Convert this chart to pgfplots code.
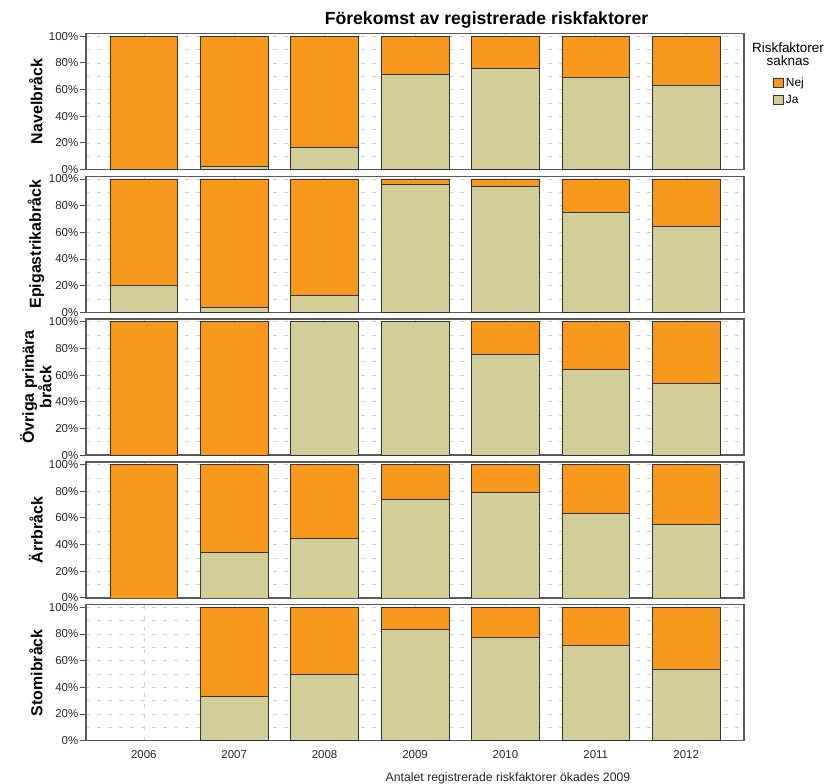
\documentclass[border=0pt]{standalone}
\usepackage{fontspec}
\setmainfont{Liberation Sans}
\usepackage{pgfplots}
\pgfplotsset{compat=1.18}
\usepackage{pgfplotstable}
\definecolor{nej}{RGB}{247,152,29}
\definecolor{ja}{RGB}{211,206,151}

\pgfplotstableread{
x ja nej
0 0 100
1 2.2 97.8
2 16.7 83.3
3 71.7 28.3
4 75.5 24.5
5 68.8 31.2
6 63.4 36.6
}\navel
\pgfplotstableread{
x ja nej
0 20.3 79.7
1 3.5 96.5
2 12.5 87.5
3 96.2 3.8
4 94.5 5.5
5 75.0 25.0
6 64.4 35.6
}\epig
\pgfplotstableread{
x ja nej
0 0 100
1 0 100
2 100 0
3 100 0
4 75.5 24.5
5 64.0 36.0
6 54.0 46.0
}\ovriga
\pgfplotstableread{
x ja nej
0 0 100
1 34.1 65.9
2 44.7 55.3
3 73.6 26.4
4 78.9 21.1
5 63.5 36.5
6 55.2 44.8
}\arr
\pgfplotstableread{
x ja nej
1 33.2 66.8
2 49.9 50.1
3 83.5 16.5
4 77.6 22.4
5 71.4 28.6
6 53.6 46.4
}\stomi

\pgfplotsset{
  panel/.style={
    scale only axis, width=658bp, height=136bp,
    xmin=-0.64, xmax=6.64, ymin=0, ymax=102,
    ybar stacked, bar width=0.75,
    ytick={0,20,40,60,80,100},
    yticklabels={0\%,20\%,40\%,60\%,80\%,100\%},
    minor ytick={10,30,50,70,90},
    xtick={0,1,2,3,4,5,6},
    xticklabels={},
    ymajorgrids, yminorgrids, xmajorgrids,
    major grid style={black!18, line width=0.6bp, dash pattern=on 4bp off 7bp},
    minor grid style={black!18, line width=0.6bp, dash pattern=on 4bp off 7bp},
    minor tick style={draw=none},
    axis line style={black!65, line width=1.3bp},
    tick align=outside, ytick pos=left, xtick pos=bottom,
    major tick length=6bp,
    ytick style={black!70, line width=0.9bp},
    xtick style={draw=none},
    yticklabel style={font=\fontsize{11.5}{13}\selectfont, text=black!85, inner xsep=1.5bp},
    xticklabel style={font=\fontsize{11.5}{13}\selectfont, text=black!85},
    ylabel style={at={(axis description cs:-0.076,0.5)}, anchor=center, rotate=0,
      font=\bfseries\fontsize{16}{15}\selectfont, align=center},
  },
  jabar/.style={fill=ja, draw=black!80, line width=0.7bp},
  nejbar/.style={fill=nej, draw=black!80, line width=0.7bp},
}

\begin{document}
\begin{tikzpicture}
\begin{axis}[panel, at={(86bp,-169.5bp)}, anchor=south west, ylabel={Navelbråck},
  legend style={at={(axis description cs:1.0441,0.6875)}, anchor=north west,
    draw=none, fill=none, font=\fontsize{12}{13}\selectfont, inner sep=0pt,
    row sep=2.5bp, cells={anchor=west}},
  legend image code/.code={\draw[#1] (0bp,-4.5bp) rectangle (10bp,4.5bp);},
  reverse legend]
\addplot[jabar] table[x=x,y=ja]{\navel};
\addplot[nejbar] table[x=x,y=nej]{\navel};
\legend{Ja,Nej}
\end{axis}
\begin{axis}[panel, at={(86bp,-312.3bp)}, anchor=south west, ylabel={Epigastrikabråck}]
\addplot[jabar] table[x=x,y=ja]{\epig};
\addplot[nejbar] table[x=x,y=nej]{\epig};
\end{axis}
\begin{axis}[panel, at={(86bp,-455.1bp)}, anchor=south west, ylabel={Övriga primära\\bråck}]
\addplot[jabar] table[x=x,y=ja]{\ovriga};
\addplot[nejbar] table[x=x,y=nej]{\ovriga};
\end{axis}
\begin{axis}[panel, at={(86bp,-597.9bp)}, anchor=south west, ylabel={Ärrbråck}]
\addplot[jabar] table[x=x,y=ja]{\arr};
\addplot[nejbar] table[x=x,y=nej]{\arr};
\end{axis}
\begin{axis}[panel, at={(86bp,-740.7bp)}, anchor=south west, ylabel={Stomibråck},
  xticklabels={2006,2007,2008,2009,2010,2011,2012},
  xtick style={black!70, line width=0.9bp}]
\addplot[jabar] table[x=x,y=ja]{\stomi};
\addplot[nejbar] table[x=x,y=nej]{\stomi};
\end{axis}
\node[font=\bfseries\fontsize{17.7}{19}\selectfont, anchor=base] at (486.5bp,-24bp) {Förekomst av registrerade riskfaktorer};
\node[font=\fontsize{13.5}{14}\selectfont, align=center, anchor=base] at (788bp,-52bp) {Riskfaktorer};
\node[font=\fontsize{13.5}{14}\selectfont, align=center, anchor=base] at (788bp,-65.5bp) {saknas};
\node[font=\fontsize{12.3}{14}\selectfont, text=black!85, anchor=base] at (508bp,-781.5bp) {Antalet registrerade riskfaktorer ökades 2009};
\pgfresetboundingbox
\path[use as bounding box] (0bp,0bp) rectangle (826bp,-784bp);
\end{tikzpicture}
\end{document}
